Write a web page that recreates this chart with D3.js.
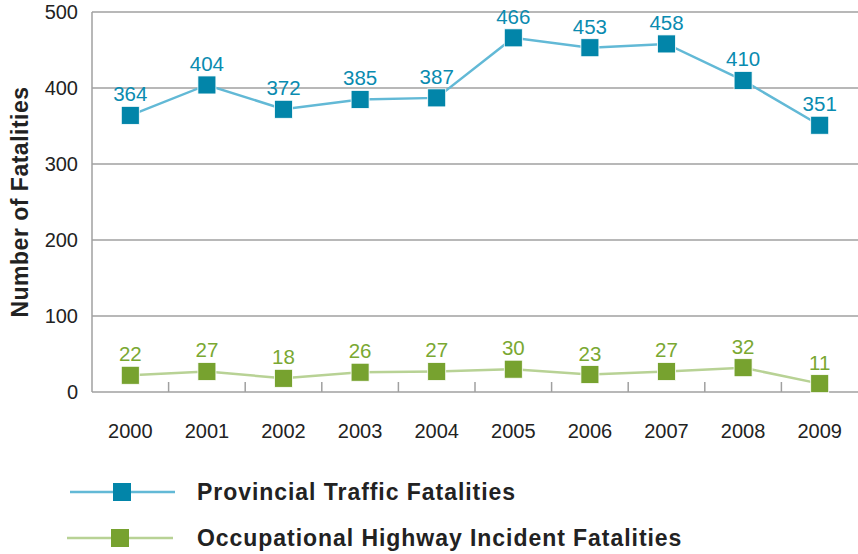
<!DOCTYPE html>
<html>
<head>
<meta charset="utf-8">
<script src="https://cdn.jsdelivr.net/npm/d3@7"></script>
<style>
  body { margin: 0; background: #fff; }
  svg { font-family: "Liberation Sans", Arial, sans-serif; }
</style>
</head>
<body>
<div id="chart"></div>
<script>
const years = ["2000", "2001", "2002", "2003", "2004", "2005", "2006", "2007", "2008", "2009"];
const provincial = [364, 404, 372, 385, 387, 466, 453, 458, 410, 351];
const occupational = [22, 27, 18, 26, 27, 30, 23, 27, 32, 11];
const yTicks = [0, 100, 200, 300, 400, 500];
const seriesNames = ["Provincial Traffic Fatalities", "Occupational Highway Incident Fatalities"];

const width = 858, height = 554;
const margin = { top: 12, right: 0, bottom: 162, left: 92 };

const svg = d3.select("#chart").append("svg")
    .attr("width", width)
    .attr("height", height);

const x = d3.scaleBand()
    .domain(years)
    .range([margin.left, width - margin.right]);

const y = d3.scaleLinear()
    .domain([0, 500])
    .range([height - margin.bottom, margin.top]);

// gridlines
svg.append("g")
    .selectAll("line")
    .data(yTicks.filter(d => d > 0))
    .enter().append("line")
    .attr("x1", margin.left)
    .attr("x2", width - margin.right)
    .attr("y1", d => y(d))
    .attr("y2", d => y(d))
    .attr("stroke", "#a0a0a0")
    .attr("stroke-width", 1.5);

// y axis
svg.append("line")
    .attr("x1", margin.left).attr("x2", margin.left)
    .attr("y1", y(500)).attr("y2", y(0))
    .attr("stroke", "#a0a0a0").attr("stroke-width", 1.5);

svg.append("g")
    .selectAll("text")
    .data(yTicks)
    .enter().append("text")
    .attr("x", 78)
    .attr("y", d => y(d))
    .attr("dy", "0.36em")
    .attr("text-anchor", "end")
    .attr("font-size", 20)
    .attr("fill", "#222")
    .text(d => d);

// x axis baseline + inward ticks
svg.append("line")
    .attr("x1", margin.left).attr("x2", width - margin.right)
    .attr("y1", y(0)).attr("y2", y(0))
    .attr("stroke", "#a0a0a0").attr("stroke-width", 1.5);

svg.append("g")
    .selectAll("line")
    .data(years.slice(1))
    .enter().append("line")
    .attr("x1", d => x(d)).attr("x2", d => x(d))
    .attr("y1", y(0)).attr("y2", y(0) - 10)
    .attr("stroke", "#a0a0a0").attr("stroke-width", 1.5);

svg.append("g")
    .selectAll("text")
    .data(years)
    .enter().append("text")
    .attr("x", d => x(d) + x.bandwidth() / 2)
    .attr("y", 438)
    .attr("text-anchor", "middle")
    .attr("font-size", 20)
    .attr("fill", "#222")
    .text(d => d);

// y title
svg.append("text")
    .attr("transform", "translate(28," + ((y(0) + y(500)) / 2) + ") rotate(-90)")
    .attr("text-anchor", "middle")
    .attr("font-size", 23)
    .attr("letter-spacing", 0.5)
    .attr("font-weight", "bold")
    .attr("fill", "#222")
    .text("Number of Fatalities");

const series = [
    { name: seriesNames[0], values: provincial, line: "#62b9d6", mark: "#0285a9", label: "#0a8bb0" },
    { name: seriesNames[1], values: occupational, line: "#b8d295", mark: "#77a22f", label: "#7aa832" }
];

const line = d3.line()
    .x((d, i) => x(years[i]) + x.bandwidth() / 2)
    .y(d => y(d));

const ms = 18;

series.forEach(s => {
    const g = svg.append("g");
    g.append("path")
        .attr("d", line(s.values))
        .attr("fill", "none")
        .attr("stroke", s.line)
        .attr("stroke-width", 2.5);

    g.selectAll("rect")
        .data(s.values)
        .enter().append("rect")
        .attr("x", (d, i) => x(years[i]) + x.bandwidth() / 2 - ms / 2)
        .attr("y", d => y(d) - ms / 2)
        .attr("width", ms)
        .attr("height", ms)
        .attr("fill", s.mark)
        .attr("stroke", "#fff")
        .attr("stroke-width", 0.8);

    g.selectAll("text")
        .data(s.values)
        .enter().append("text")
        .attr("x", (d, i) => x(years[i]) + x.bandwidth() / 2)
        .attr("y", d => y(d) - 14)
        .attr("text-anchor", "middle")
        .attr("font-size", 20.5)
        .attr("fill", s.label)
        .text(d => d);
});

// legend
const legendY = [492, 538];
series.forEach((s, i) => {
    const g = svg.append("g").attr("transform", "translate(0," + legendY[i] + ")");
    g.append("line")
        .attr("x1", 70 - i * 3).attr("x2", 175 - i * 2)
        .attr("y1", 0).attr("y2", 0)
        .attr("stroke", s.line).attr("stroke-width", 2.5);
    g.append("rect")
        .attr("x", 122 - i * 2 - ms / 2).attr("y", -ms / 2)
        .attr("width", ms).attr("height", ms)
        .attr("fill", s.mark);
    g.append("text")
        .attr("x", 197)
        .attr("y", 0)
        .attr("dy", "0.36em")
        .attr("font-size", 23)
        .attr("letter-spacing", 0.95)
        .attr("font-weight", "bold")
        .attr("fill", "#222")
        .text(s.name);
});
</script>
</body>
</html>
